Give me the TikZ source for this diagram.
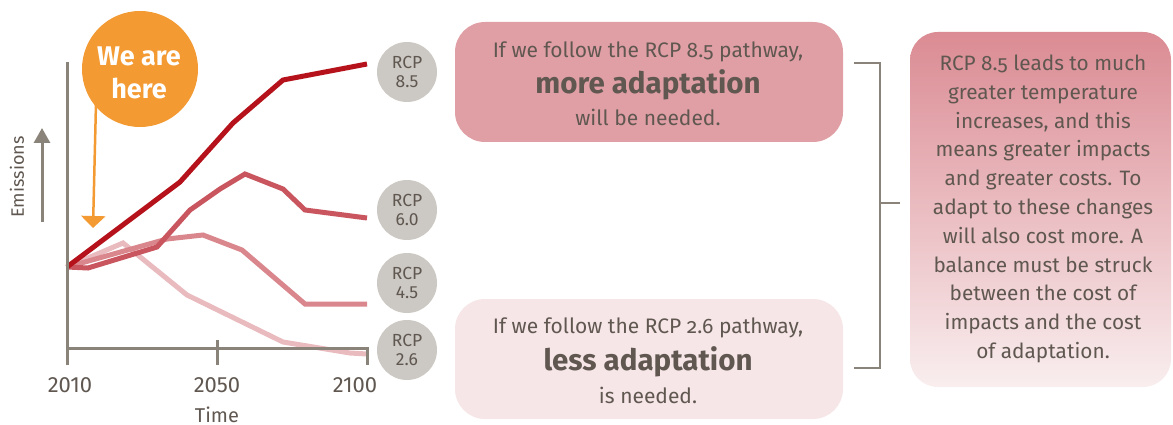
\documentclass[tikz,border=0pt]{standalone}
\usepackage{fontspec}
\setmainfont{Fira Sans}
\newfontfamily\oldnum[Numbers=OldStyle]{Fira Sans}
\usetikzlibrary{arrows.meta}
\definecolor{txt}{HTML}{5F5750}
\definecolor{axisgray}{HTML}{8A8379}
\definecolor{rcpA}{HTML}{B5121B}
\definecolor{rcpB}{HTML}{C9555F}
\definecolor{rcpC}{HTML}{D9868C}
\definecolor{rcpD}{HTML}{E9BABE}
\definecolor{orng}{HTML}{F39A33}
\definecolor{circgray}{HTML}{CCC8C3}
\definecolor{boxA}{HTML}{E09FA5}
\definecolor{boxB}{HTML}{F7E6E7}
\definecolor{gradtop}{HTML}{DB8B93}
\definecolor{gradbot}{HTML}{F9EEEF}
\tikzset{
  axisline/.style={draw=axisgray, line width=3pt},
  dataline/.style={line width=5pt, line join=miter},
  rcpcirc/.style={circle, fill=circgray, minimum size=60pt, inner sep=0pt, align=center, text=txt, font=\fontsize{17.5}{18.5}\selectfont},
  ticklabel/.style={text=txt, font=\fontsize{22}{24}\selectfont},
  msgbox/.style={rounded corners=30pt, minimum width=388pt, minimum height=120pt, align=center, text=txt, inner sep=0pt},
  bodytxt/.style={text=txt, font=\oldnum\fontsize{21}{23}\selectfont},
  boldtxt/.style={text=txt, font=\bfseries\fontsize{29.5}{31}\selectfont}
}
\begin{document}
\begin{tikzpicture}[x=1pt,y=-1pt]
\useasboundingbox (0,0) rectangle (1173,425);
% data lines
\draw[dataline, rcpD] (67,267) -- (123,243) -- (187,295) -- (283,342) -- (350,353) -- (367,354);
\draw[dataline, rcpC] (67,267) -- (167,239) -- (203,235) -- (242,250) -- (305,304) -- (367,304);
\draw[dataline, rcpB] (67,267) -- (88,268) -- (157,247) -- (190,210) -- (220,189) -- (245,174) -- (283,189) -- (305,210) -- (367,218);
\draw[dataline, rcpA] (67,267) -- (180,182) -- (233,123) -- (283,80) -- (367,64);
% axes
\coordinate (ytop) at (67,62);
\coordinate (origin) at (67,348);
\coordinate (xend) at (367,348);
\draw[axisline] (ytop) -- (67,365);
\draw[axisline] (origin) -- (xend) -- (367,365);
\draw[axisline] (217,340) -- (217,365);
\node[ticklabel] (y2010) at (70,385) {2010};
\node[ticklabel] (y2050) at (217,385) {2050};
\node[ticklabel] (y2100) at (355,385) {2100};
\node[ticklabel, font=\fontsize{20}{22}\selectfont, inner sep=0pt, anchor=base] (time) at (217,422) {Time};
\node[ticklabel, rotate=90, font=\fontsize{18}{20}\selectfont] (emis) at (17,177) {Emissions};
\coordinate (ea) at (42,222);
\coordinate (eb) at (42,128);
\draw[axisgray, line width=3pt, -{Triangle[width=16pt,length=15pt]}] (ea) -- (eb);
% we are here
\node[circle, fill=orng, minimum size=116pt, inner sep=0pt] (here) at (140,69) {};
\node[text=white, font=\bfseries\fontsize{27}{29}\selectfont] (here1) at (139,56) {We are};
\node[text=white, font=\bfseries\fontsize{27}{29}\selectfont] (here2) at (139,88) {here};
\coordinate (herearrow) at (93,228);
\draw[orng, line width=2.5pt, -{Triangle[width=24pt,length=12pt]}] (96,103) -- (herearrow);
% RCP circles
\node[rcpcirc] (c85) at (407,72) {RCP\\8.5};
\node[rcpcirc] (c60) at (407,210) {RCP\\6.0};
\node[rcpcirc] (c45) at (407,283) {RCP\\4.5};
\node[rcpcirc] (c26) at (407,350) {RCP\\2.6};
% message boxes
\node[msgbox, fill=boxA] (more) at (649,82) {};
\node[msgbox, fill=boxB] (less) at (649,359) {};
\node[bodytxt] (m1) at (648,52) {If we follow the RCP 8.5 pathway,};
\node[boldtxt] (m2) at (648,85) {more adaptation};
\node[bodytxt] (m3) at (648,117) {will be needed.};
\node[bodytxt] (l1) at (648,328) {If we follow the RCP 2.6 pathway,};
\node[boldtxt] (l2) at (648,362) {less adaptation};
\node[bodytxt] (l3) at (648,395) {is needed.};
% bracket
\coordinate (bt) at (854,63);
\coordinate (bb) at (854,368);
\coordinate (bm) at (900,203);
\draw[axisgray, line width=1.5pt] (bt) -- (880,63) -- (880,368) -- (bb);
\draw[axisgray, line width=1.5pt] (880,203) -- (bm);
% gradient box
\shade[top color=gradtop, bottom color=gradbot, rounded corners=28pt] (910,32) rectangle (1171,387);
\node[text=txt, align=center, font=\oldnum\fontsize{20.8}{28.8}\selectfont] (expl) at (1043,209) {RCP 8.5 leads to much\\greater temperature\\increases, and this\\means greater impacts\\and greater costs. To\\adapt to these changes\\will also cost more. A\\balance must be struck\\between the cost of\\impacts and the cost\\of adaptation.};
\end{tikzpicture}
\end{document}
